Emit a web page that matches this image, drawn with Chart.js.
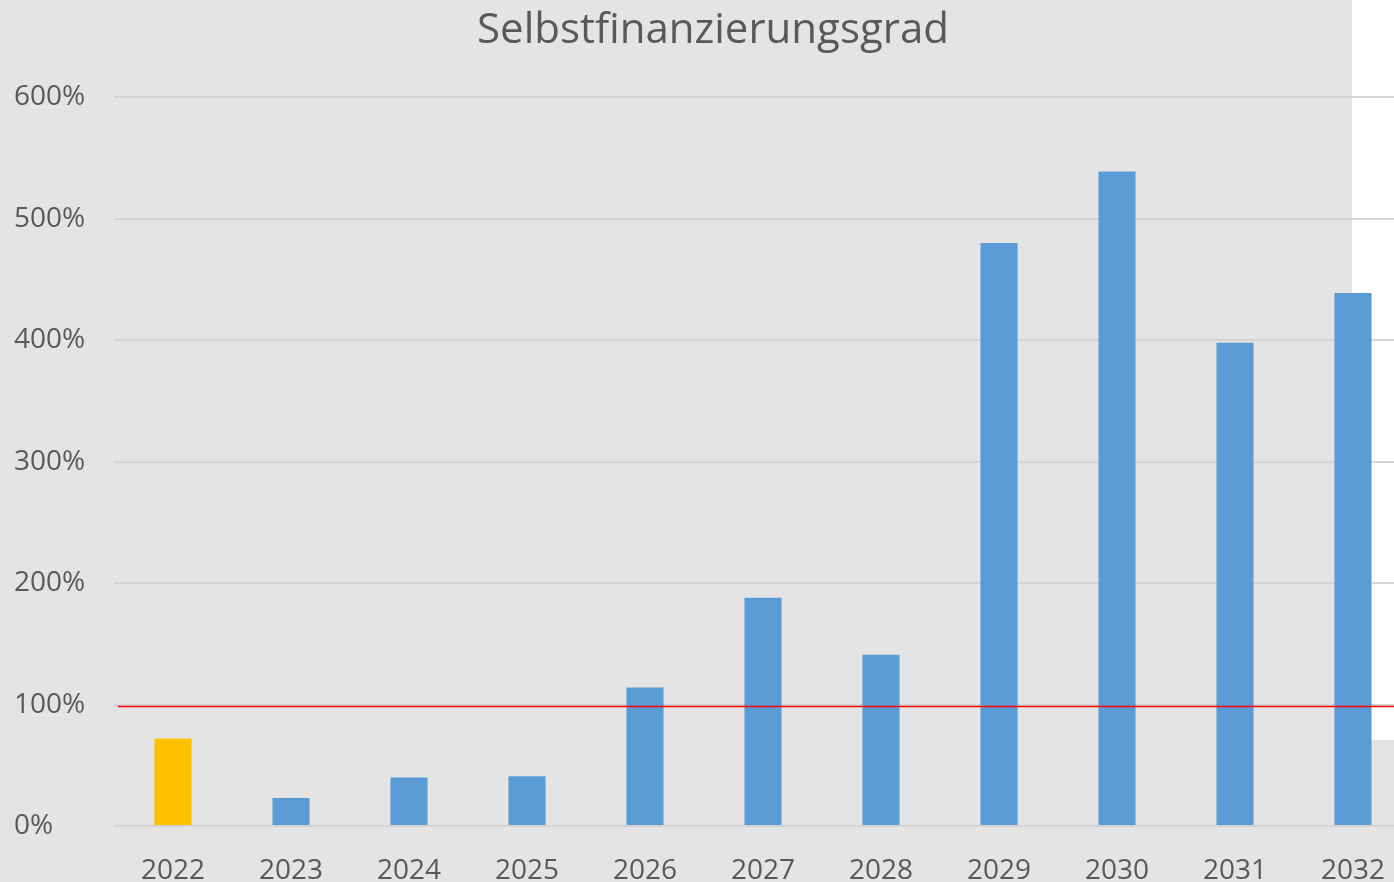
<!DOCTYPE html>
<html>
<head>
<meta charset="utf-8">
<script src="https://cdn.jsdelivr.net/npm/chart.js@4/dist/chart.umd.min.js"></script>
<style>
  html, body { margin: 0; padding: 0; overflow: hidden; background: #e4e4e4; }
  #wrap { width: 1412px; height: 882px; }
</style>
</head>
<body>
<div id="wrap"><canvas id="chart"></canvas></div>
<script>
const years = ["2022", "2023", "2024", "2025", "2026", "2027", "2028", "2029", "2030", "2031", "2032"];
const selbstfinanzierung = [72, 23, 40, 41, 114, 188, 141, 480, 539, 398, 439];
const barColors = ["#ffc000", "#5b9bd5", "#5b9bd5", "#5b9bd5", "#5b9bd5", "#5b9bd5", "#5b9bd5", "#5b9bd5", "#5b9bd5", "#5b9bd5", "#5b9bd5"];
const zielLinie = 98.5;
const yTicks = [0, 100, 200, 300, 400, 500, 600];

const font = "'Open Sans', sans-serif";

const bgPlugin = {
  id: 'bg',
  beforeDraw(chart) {
    const c = chart.ctx;
    c.save();
    c.fillStyle = '#e4e4e4';
    c.fillRect(0, 0, chart.width, chart.height);
    // white strip at the right edge of the screenshot
    c.fillStyle = '#ffffff';
    c.fillRect(1352, 0, 42, 740);
    c.restore();
  }
};

const refLine = {
  id: 'refLine',
  afterDatasetsDraw(chart) {
    const c = chart.ctx;
    const y = chart.scales.y.getPixelForValue(zielLinie);
    c.save();
    c.strokeStyle = '#ff0000';
    c.lineWidth = 1.5;
    c.beginPath();
    c.moveTo(chart.chartArea.left + 4, y);
    c.lineTo(chart.width, y);
    c.stroke();
    c.restore();
  }
};

new Chart(document.getElementById('chart'), {
  type: 'bar',
  data: {
    labels: years,
    datasets: [{
      label: 'Selbstfinanzierungsgrad',
      data: selbstfinanzierung,
      backgroundColor: barColors,
      barPercentage: 0.314,
      categoryPercentage: 1.0
    }]
  },
  plugins: [bgPlugin, refLine],
  options: {
    responsive: true,
    maintainAspectRatio: false,
    animation: false,
    layout: { padding: { top: 0, right: 0, bottom: 0, left: 14 } },
    plugins: {
      legend: { display: false },
      tooltip: { enabled: false },
      title: {
        display: true,
        text: 'Selbstfinanzierungsgrad',
        color: '#595959',
        font: { family: font, size: 42, weight: 'normal', lineHeight: 1.2 },
        padding: { top: 6, bottom: 41 },
        align: 'center'
      }
    },
    scales: {
      x: {
        grid: { display: false },
        border: { display: false },
        ticks: {
          color: '#595959',
          font: { family: font, size: 28 },
          padding: 20
        },
        afterFit(scale) { scale.height = 56; }
      },
      y: {
        min: 0,
        max: 600,
        afterBuildTicks(scale) { scale.ticks = yTicks.map(v => ({ value: v })); },
        grid: { color: '#d4d4d4', lineWidth: 2, drawTicks: false },
        border: { display: false },
        ticks: {
          color: '#595959',
          font: { family: font, size: 28 },
          crossAlign: 'far',
          padding: 14,
          callback: v => v + '%'
        },
        afterFit(scale) { scale.width = 100; }
      }
    }
  }
});
</script>
</body>
</html>
